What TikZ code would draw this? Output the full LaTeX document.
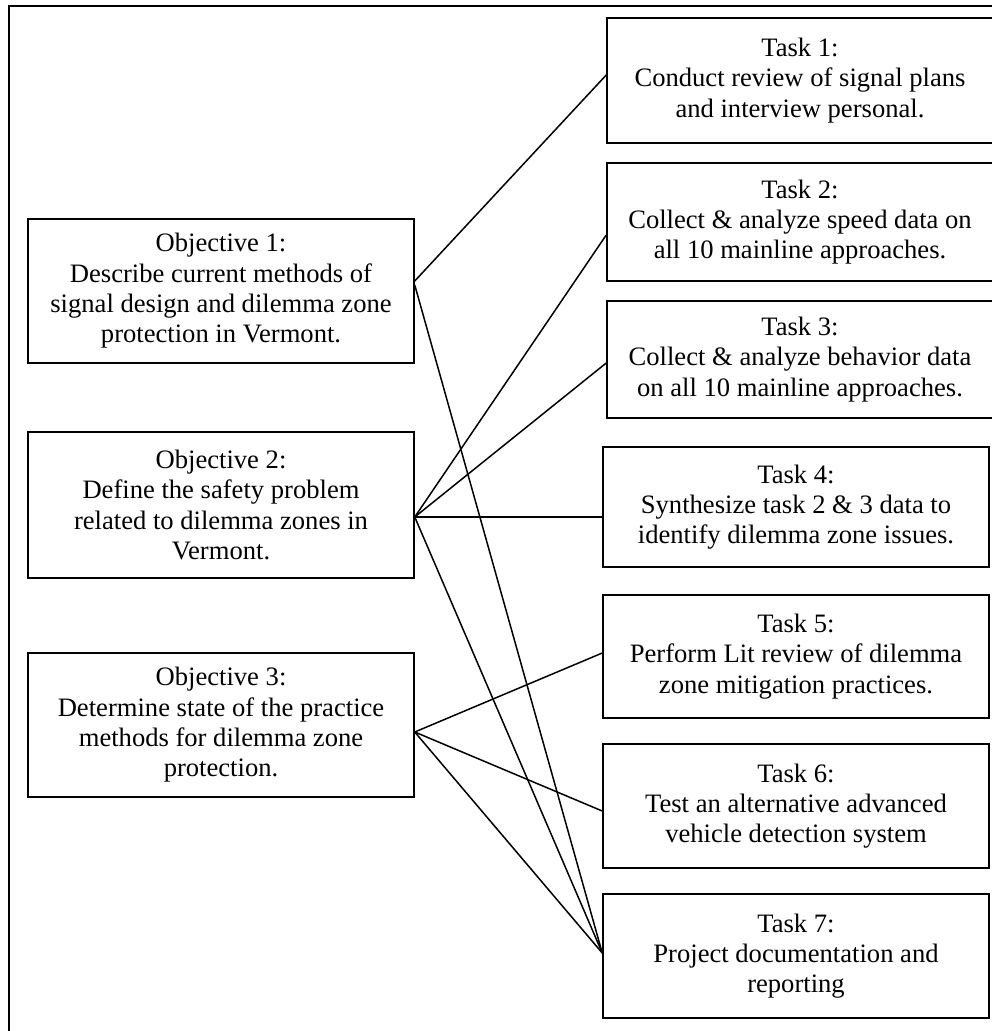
\documentclass[tikz,border=0pt]{standalone}
\usepackage{fontspec}
\setmainfont{Liberation Serif}
\begin{document}
\begin{tikzpicture}[x=1pt,y=-1pt,
  box/.style={draw, line width=1.5pt, rectangle, inner sep=0pt, minimum width=386pt,
              align=center, font=\fontsize{26.6}{30.3}\selectfont},
  link/.style={line width=1.5pt}]
\useasboundingbox (0,0) rectangle (991,1031);
\draw[line width=2pt] (9,6) rectangle (1005,1045);
% objectives
\node[box, minimum height=144pt] (o1) at (221,291) {Objective 1:\\Describe current methods of\\signal design and dilemma zone\\protection in Vermont.};
\node[box, minimum height=146pt] (o2) at (221,505) {Objective 2:\\Define the safety problem\\related to dilemma zones in\\Vermont.};
\node[box, minimum height=144pt] (o3) at (221,725) {Objective 3:\\Determine state of the practice\\methods for dilemma zone\\protection.};
% tasks
\node[box, minimum height=125pt] (t1) at (800,80.5) {Task 1:\\Conduct review of signal plans\\and interview personal.};
\node[box, minimum height=118pt] (t2) at (800,222) {Task 2:\\Collect \& analyze speed data on\\all 10 mainline approaches.};
\node[box, minimum height=117pt] (t3) at (800,359.5) {Task 3:\\Collect \& analyze behavior data\\on all 10 mainline approaches.};
\node[box, minimum height=120pt] (t4) at (796,507) {Task 4:\\Synthesize task 2 \& 3 data to\\identify dilemma zone issues.};
\node[box, minimum height=123pt] (t5) at (796,656.5) {Task 5:\\Perform Lit review of dilemma\\zone mitigation practices.};
\node[box, minimum height=124pt] (t6) at (796,806) {Task 6:\\Test an alternative advanced\\vehicle detection system};
\node[box, minimum height=124pt] (t7) at (796,956) {Task 7:\\Project documentation and\\reporting};
% connectors
\draw[link] ([yshift=10pt]o1.east) -- ([yshift=5.5pt]t1.west);
\draw[link] ([yshift=6pt]o1.east) -- ([yshift=3pt]t7.west);
\draw[link] ([yshift=-12pt]o2.east) -- ([yshift=-13pt]t2.west);
\draw[link] ([yshift=-12pt]o2.east) -- ([yshift=-3.5pt]t3.west);
\draw[link] ([yshift=-12pt]o2.east) -- ([yshift=-10pt]t4.west);
\draw[link] ([yshift=-12pt]o2.east) -- ([yshift=3pt]t7.west);
\draw[link] ([yshift=-7pt]o3.east) -- ([yshift=3.5pt]t5.west);
\draw[link] ([yshift=-7pt]o3.east) -- ([yshift=-5pt]t6.west);
\draw[link] ([yshift=-7pt]o3.east) -- ([yshift=3pt]t7.west);
\end{tikzpicture}
\end{document}
